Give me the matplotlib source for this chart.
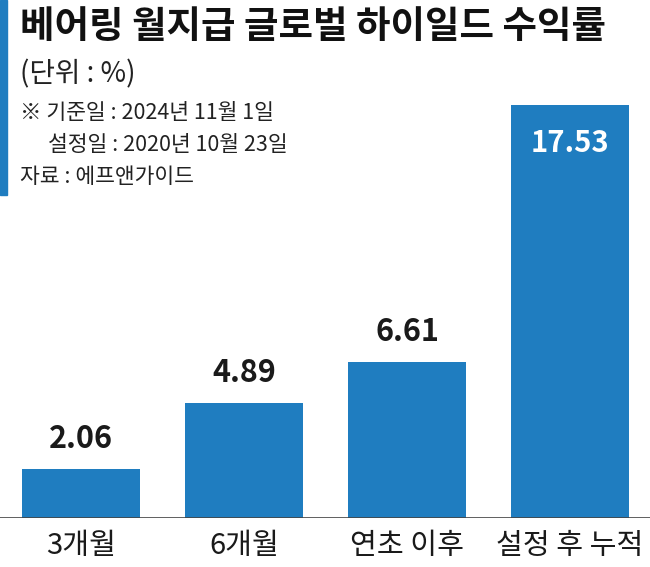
import matplotlib
matplotlib.use("Agg")
import matplotlib.pyplot as plt
from matplotlib.patches import Rectangle

plt.rcParams['font.family'] = ['Noto Sans CJK KR', 'DejaVu Sans']

# 데이터
categories = ['3개월', '6개월', '연초 이후', '설정 후 누적']
values = [2.06, 4.89, 6.61, 17.53]
value_labels = ['2.06', '4.89', '6.61', '17.53']

title = '베어링 월지급 글로벌 하이일드 수익률'
unit = '(단위 : %)'
notes = ['※ 기준일 : 2024년 11월 1일', '설정일 : 2020년 10월 23일', '자료 : 에프앤가이드']

blue = '#1f7dc0'

fig = plt.figure(figsize=(6.5, 5.67), dpi=100)
W, H = 650, 567

# 축 위치: 기준선 y=518px
ax = fig.add_axes([0, (H - 518) / H, 1, 518 / H])
ax.set_xlim(-81 / 163, (650 - 81) / 163)
ax.set_ylim(0, 518 / 23.56)
ax.bar(range(len(values)), values, width=0.72, color=blue, zorder=2)
ax.axis('off')
ax.axhline(0, color='#444444', lw=1.2, zorder=3)

for i, (v, lab) in enumerate(zip(values, value_labels)):
    if i == len(values) - 1:
        ax.text(i, v - 1.6, lab, ha='center', va='center', color='white',
                fontsize=21, fontweight='bold')
    else:
        ax.text(i, v + 0.6, lab, ha='center', va='bottom', color='#1a1a1a',
                fontsize=22, fontweight='bold')
    ax.text(i, -0.55, categories[i], ha='center', va='top', color='#1a1a1a',
            fontsize=21, clip_on=False)

# 왼쪽 파란 막대
fig.patches.append(Rectangle((0, 1 - 195 / H), 7 / W, 195 / H,
                             transform=fig.transFigure, color=blue))

fig.text(20 / W, 1 - 7 / H, title, ha='left', va='top', fontsize=27,
         fontweight='heavy', color='#111111')
fig.text(20 / W, 1 - 59 / H, unit, ha='left', va='top', fontsize=20, color='#222222')
fig.text(20 / W, 1 - 102 / H, notes[0], ha='left', va='top', fontsize=15.5, color='#222222')
fig.text(48 / W, 1 - 134 / H, notes[1], ha='left', va='top', fontsize=15.5, color='#222222')
fig.text(20 / W, 1 - 166 / H, notes[2], ha='left', va='top', fontsize=15.5, color='#222222')

fig.savefig('out.png', dpi=100)
